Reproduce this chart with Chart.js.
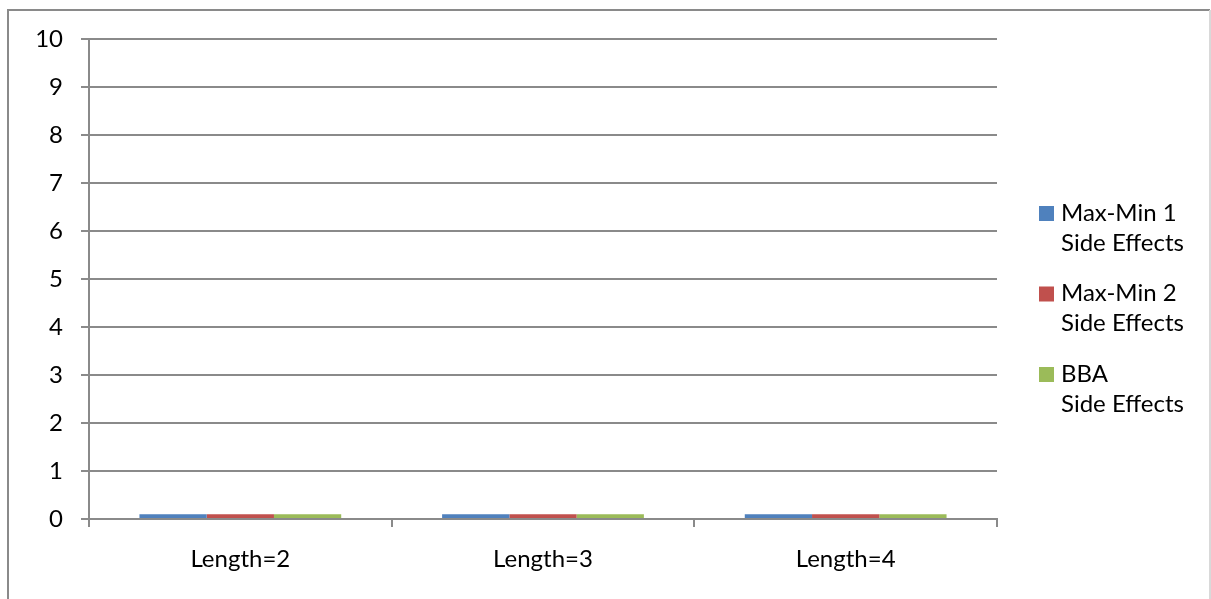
<!DOCTYPE html>
<html>
<head>
<meta charset="utf-8">
<script src="https://cdn.jsdelivr.net/npm/chart.js@4/dist/chart.umd.min.js"></script>
<style>
  html, body { margin: 0; padding: 0; background: #fff; }
  #wrap { width: 1211px; height: 599px; position: relative; }
</style>
</head>
<body>
<div id="wrap"><canvas id="c" width="1211" height="599"></canvas></div>
<script>
// Categories and series
const categories = ['Length=2', 'Length=3', 'Length=4'];
const seriesNames = [
  ['Max-Min 1', 'Side Effects'],
  ['Max-Min 2', 'Side Effects'],
  ['BBA', 'Side Effects']
];
const maxMin1 = [0.1, 0.1, 0.1];
const maxMin2 = [0.1, 0.1, 0.1];
const bba = [0.1, 0.1, 0.1];
const seriesColors = ['#4F81BD', '#C0504D', '#9BBB59'];
const yTicks = [0, 1, 2, 3, 4, 5, 6, 7, 8, 9, 10];

const FONT = 'Lato, "Open Sans", "Liberation Sans", sans-serif';
const GRID = '#8a8a8a';

// White page with the frame around the chart
const framePlugin = {
  id: 'frame',
  beforeDraw(chart) {
    const ctx = chart.ctx;
    ctx.save();
    ctx.fillStyle = '#fff';
    ctx.fillRect(0, 0, chart.width, chart.height);
    ctx.lineWidth = 2;
    ctx.strokeStyle = '#8a8a8a';
    ctx.beginPath();
    ctx.moveTo(8, chart.height + 5);
    ctx.lineTo(8, 10);
    ctx.lineTo(1210, 10);
    ctx.stroke();
    ctx.strokeStyle = '#d9d9d9';
    ctx.beginPath();
    ctx.moveTo(1210, 10);
    ctx.lineTo(1210, chart.height + 5);
    ctx.stroke();
    ctx.restore();
  }
};

// Legend on the right with two-line entries
const sideLegend = {
  id: 'sideLegend',
  afterDraw(chart) {
    const ctx = chart.ctx;
    ctx.save();
    ctx.font = '24px ' + FONT;
    ctx.textBaseline = 'middle';
    ctx.textAlign = 'left';
    const x0 = 1039, firstY = 213, step = 80.5, lineGap = 30;
    chart.data.datasets.forEach((ds, i) => {
      const y = firstY + i * step;
      ctx.fillStyle = ds.backgroundColor;
      ctx.fillRect(x0, y - 7, 15, 15);
      ctx.fillStyle = '#000';
      seriesNames[i].forEach((line, j) => {
        ctx.fillText(line, 1061, y + j * lineGap);
      });
    });
    ctx.restore();
  }
};

new Chart(document.getElementById('c'), {
  type: 'bar',
  data: {
    labels: categories,
    datasets: [
      { label: seriesNames[0].join(' '), data: maxMin1, backgroundColor: seriesColors[0] },
      { label: seriesNames[1].join(' '), data: maxMin2, backgroundColor: seriesColors[1] },
      { label: seriesNames[2].join(' '), data: bba, backgroundColor: seriesColors[2] }
    ]
  },
  options: {
    responsive: false,
    animation: false,
    devicePixelRatio: 1,
    layout: { padding: { top: 39, right: 214, left: 0, bottom: 0 } },
    datasets: { bar: { categoryPercentage: 3 / 4.5, barPercentage: 1, borderWidth: 0 } },
    plugins: {
      legend: { display: false },
      tooltip: { enabled: false }
    },
    scales: {
      x: {
        offset: true,
        grid: { offset: true, drawOnChartArea: false, drawTicks: true, tickLength: 8, color: GRID, lineWidth: 2 },
        border: { display: true, color: GRID, width: 2 },
        ticks: { color: '#000', font: { family: FONT, size: 24 }, padding: 18, maxRotation: 0 },
        afterFit(scale) { scale.height = 80; }
      },
      y: {
        min: 0,
        max: 10,
        afterBuildTicks(scale) { scale.ticks = yTicks.map(v => ({ value: v })); },
        grid: { drawTicks: true, tickLength: 8, color: GRID, lineWidth: 2 },
        border: { display: true, color: GRID, width: 2 },
        ticks: { color: '#000', font: { family: FONT, size: 24 }, padding: 18 },
        afterFit(scale) { scale.width = 89; }
      }
    }
  },
  plugins: [framePlugin, sideLegend]
});
</script>
</body>
</html>
